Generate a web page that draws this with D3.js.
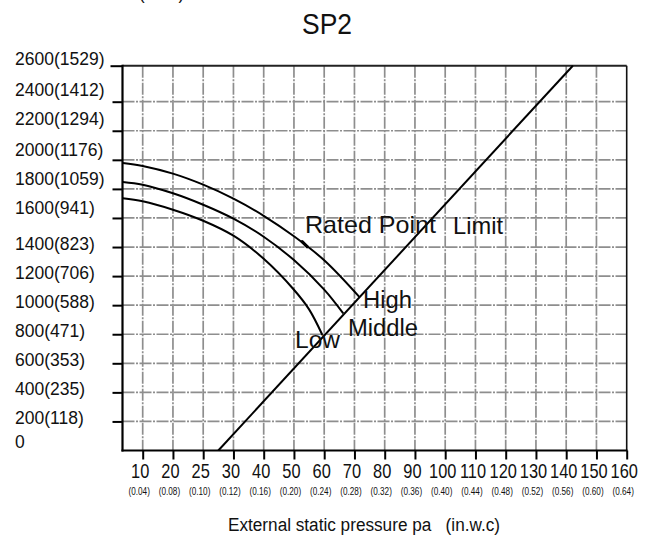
<!DOCTYPE html>
<html><head><meta charset="utf-8">
<script src="https://cdn.jsdelivr.net/npm/d3@7"></script>
<style>
html,body{margin:0;padding:0;background:#fff;}
svg{display:block;font-family:"Liberation Sans",Arial,Helvetica,sans-serif;}
</style>
</head><body>
<svg id="chart" width="656" height="542"></svg>
<script>
// ---------------- data ----------------
const chartTitle = "SP2";
const topCutLabel = "(m³/h)";
const xAxisTitle = "External static pressure pa   (in.w.c)";
const xTicks = [10, 20, 25, 30, 40, 50, 60, 70, 80, 90, 100, 110, 120, 130, 140, 150, 160];
const xSubLabels = ["(0.04)", "(0.08)", "(0.10)", "(0.12)", "(0.16)", "(0.20)", "(0.24)", "(0.28)", "(0.32)",
                    "(0.36)", "(0.40)", "(0.44)", "(0.48)", "(0.52)", "(0.56)", "(0.60)", "(0.64)"];
const yTicks = [0, 200, 400, 600, 800, 1000, 1200, 1400, 1600, 1800, 2000, 2200, 2400, 2600];
const yTickLabels = ["0", "200(118)", "400(235)", "600(353)", "800(471)", "1000(588)", "1200(706)", "1400(823)",
                     "1600(941)", "1800(1059)", "2000(1176)", "2200(1294)", "2400(1412)", "2600(1529)"];
// [pressure Pa, airflow]
const highCurve   = [[3.4, 1979], [10, 1958], [20, 1905], [25, 1829], [30, 1733], [40, 1615], [50, 1474], [60, 1309], [71.6, 1057]];
const middleCurve = [[3.4, 1848], [10, 1829], [20, 1770], [25, 1691], [30, 1595], [40, 1471], [50, 1310], [60, 1107], [66.3, 943]];
const lowCurve    = [[3.4, 1736], [10, 1715], [20, 1657], [25, 1581], [30, 1478], [40, 1319], [50, 1106], [55, 971], [59.4, 795]];
const limitLine   = [[27.5, 0], [142.2, 2600]];
const ratedPoint  = [53.7, 1416];
const curveLabels = ["High", "Middle", "Low"];

// ---------------- layout ----------------
const svg = d3.select("#chart");
const plotLeft = 122.5, plotRight = 626.7, plotTop = 65.7, plotBottom = 450.5;
const firstTickX = 142.7, tickStep = (plotRight - firstTickX) / (xTicks.length - 1);

const x = d3.scaleLinear()
  .domain(xTicks)
  .range(xTicks.map((d, i) => firstTickX + i * tickStep));
const y = d3.scaleLinear()
  .domain([0, 2400, 2600])
  .range([plotBottom, 101.7, plotTop]);

// grid
const grid = svg.append("g").attr("stroke", "#8e8e8e").attr("stroke-width", 1.7)
  .attr("stroke-dasharray", "12,1.5,2,1.5");
grid.selectAll("line.v").data(xTicks.slice(0, -1)).join("line").attr("class", "v")
  .attr("x1", d => x(d)).attr("x2", d => x(d)).attr("y1", plotTop).attr("y2", plotBottom);
grid.selectAll("line.h").data(yTicks.slice(1, -1)).join("line").attr("class", "h")
  .attr("x1", plotLeft).attr("x2", plotRight).attr("y1", d => y(d)).attr("y2", d => y(d));

// frame
svg.append("line").attr("x1", plotLeft).attr("x2", plotRight).attr("y1", plotTop).attr("y2", plotTop)
  .attr("stroke", "#222").attr("stroke-width", 2);
svg.append("line").attr("x1", plotRight).attr("x2", plotRight).attr("y1", plotTop).attr("y2", plotBottom)
  .attr("stroke", "#111").attr("stroke-width", 1.6);
svg.append("line").attr("x1", plotLeft).attr("x2", plotLeft).attr("y1", plotTop - 1).attr("y2", plotBottom + 1)
  .attr("stroke", "#000").attr("stroke-width", 2.2);
svg.append("line").attr("x1", plotLeft - 1).attr("x2", plotRight + 0.8).attr("y1", plotBottom).attr("y2", plotBottom)
  .attr("stroke", "#000").attr("stroke-width", 2.2);

// x axis
const gx = svg.append("g").attr("transform", `translate(0,${plotBottom})`)
  .call(d3.axisBottom(x).tickValues(xTicks).tickSize(9).tickSizeOuter(0).tickFormat(d3.format("d")));
gx.select(".domain").remove();
gx.selectAll(".tick line").attr("stroke", "#000").attr("stroke-width", 2);
gx.selectAll(".tick text")
  .attr("y", 28).attr("dy", 0)
  .attr("font-size", 20).attr("font-family", "\"Liberation Sans\",Arial,sans-serif")
  .attr("fill", "#111")
  .attr("transform", "translate(-3,0) scale(0.82,1)");
gx.selectAll(".tick").append("text")
  .text((d, i) => xSubLabels[i])
  .attr("y", 44.5).attr("text-anchor", "middle")
  .attr("font-size", 10).attr("fill", "#111")
  .attr("transform", "translate(-4,0) scale(0.82,1)");

// y axis
function yLabelShift(v) {
  if (v === 0) return -3;
  if (v === 2600) return -1;
  if (v >= 2200) return -6;
  if (v >= 1600) return -4;
  return 2.5;
}
const gy = svg.append("g").attr("transform", `translate(${plotLeft},0)`)
  .call(d3.axisLeft(y).tickValues(yTicks).tickSize(10).tickSizeOuter(0)
    .tickFormat((d, i) => yTickLabels[i]));
gy.select(".domain").remove();
gy.selectAll(".tick line").attr("stroke", "#000").attr("stroke-width", 2)
  .attr("x2", d => d === 2600 ? -12 : -10)
  .attr("display", d => d === 0 ? "none" : null);
gy.selectAll(".tick text")
  .attr("x", 15 - plotLeft).attr("dy", 0).attr("y", d => yLabelShift(d))
  .attr("text-anchor", "start")
  .attr("font-size", 17.5).attr("font-family", "\"Liberation Sans\",Arial,sans-serif")
  .attr("fill", "#111");

// curves
const line = d3.line().x(d => x(d[0])).y(d => y(d[1])).curve(d3.curveCatmullRom.alpha(0.5));
[highCurve, middleCurve, lowCurve].forEach(c => {
  svg.append("path").datum(c).attr("d", line)
    .attr("fill", "none").attr("stroke", "#000").attr("stroke-width", 2);
});
svg.append("path").datum(limitLine).attr("d", d3.line().x(d => x(d[0])).y(d => y(d[1])))
  .attr("fill", "none").attr("stroke", "#000").attr("stroke-width", 2);

// rated point marker
const rpX = x(ratedPoint[0]), rpY = y(ratedPoint[1]);
svg.append("line").attr("x1", rpX - 3).attr("y1", rpY - 3).attr("x2", rpX + 2).attr("y2", rpY + 2)
  .attr("stroke", "#000").attr("stroke-width", 3.2).attr("stroke-linecap", "round");

// annotation texts
function addText(txt, tx, ty, size, len, anchor) {
  const t = svg.append("text").attr("x", tx).attr("y", ty).attr("font-size", size)
    .attr("fill", "#111").attr("text-anchor", anchor || "start").style("white-space", "pre").text(txt);
  if (len) t.attr("textLength", len).attr("lengthAdjust", "spacingAndGlyphs");
  return t;
}
addText("Rated Point", 305, 233, 24, 131);
addText("Limit", 453, 234, 24, 50);
addText(curveLabels[0], 363, 308, 23, 49);
addText(curveLabels[1], 348, 335.5, 23, 70);
addText(curveLabels[2], 295, 348, 23, 45);

// titles
addText(chartTitle, 302, 34, 29, 50);
addText(topCutLabel, 139, -1, 17.5, 45);
addText(xAxisTitle, 228, 531, 18, 272);
</script>
</body></html>
